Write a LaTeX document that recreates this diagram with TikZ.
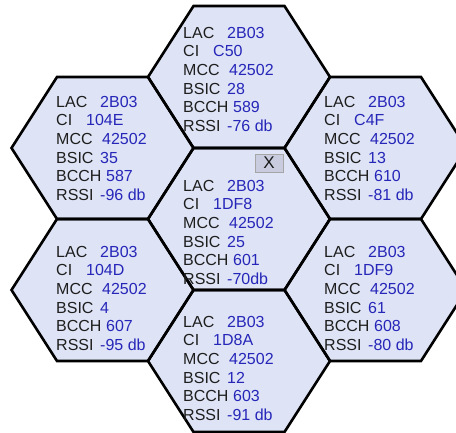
\documentclass[tikz,border=0pt]{standalone}
\usepackage{fontspec}
\setmainfont{Liberation Sans}
\definecolor{cellfill}{RGB}{222,228,245}
\definecolor{valblue}{RGB}{38,38,185}
\definecolor{labgray}{RGB}{30,30,30}
\definecolor{btnfill}{RGB}{200,204,222}
% one line of a cell: label, tab width, value
\newcommand{\fld}[3]{\makebox[#2pt][l]{\color{labgray}#1}\textcolor{valblue}{#3}}
% hexagon outline round (cx,cy)
\newcommand{\hexpath}[2]{(#1-91,#2) -- (#1-45.5,#2-71) -- (#1+45.5,#2-71) -- (#1+91,#2) -- (#1+45.5,#2+71) -- (#1-45.5,#2+71) -- cycle}
% text block of a cell: name, x, y, CI, BSIC, BCCH, RSSI
\newcommand{\cellinfo}[7]{\node[cellinfo] (#1) at (#2,#3) {\fld{LAC}{44}{2B03}\\\fld{CI}{30}{#4}\\\fld{MCC}{46}{42502}\\\fld{BSIC}{44}{#5}\\\fld{BCCH}{50}{#6}\\\fld{RSSI}{44}{#7}};}
\tikzset{
  cellinfo/.style={anchor=north west,inner sep=0pt,align=left,font=\fontsize{16}{18.6}\selectfont},
  hexborder/.style={draw=black,line width=2.6pt,line join=miter}
}
\begin{document}
\begin{tikzpicture}[x=1pt,y=-1pt]
  \clip (0,0) rectangle (456,432);
  \fill[white] (0,0) rectangle (456,432);
  % ===================== celdas =====================
  \foreach \cx/\cy in {239/77,102.5/148,375.5/148,239/219,102.5/290,375.5/290,239/361}
    \fill[cellfill] \hexpath{\cx}{\cy};
  \foreach \cx/\cy in {239/77,102.5/148,375.5/148,239/219,102.5/290,375.5/290,239/361}
    \draw[hexborder] \hexpath{\cx}{\cy};
  % ===================== datos =====================
  \cellinfo{infoTop}{183}{27}{C50}{28}{589}{-76 db}
  \cellinfo{infoUpLeft}{56}{96}{104E}{35}{587}{-96 db}
  \cellinfo{infoUpRight}{324}{96}{C4F}{13}{610}{-81 db}
  \cellinfo{infoMid}{183}{180}{1DF8}{25}{601}{-70db}
  \cellinfo{infoLowLeft}{56}{246}{104D}{4}{607}{-95 db}
  \cellinfo{infoLowRight}{324}{246}{1DF9}{61}{608}{-80 db}
  \cellinfo{infoBottom}{183}{316}{1D8A}{12}{603}{-91 db}
  % ===================== boton =====================
  \node[draw=gray!70,fill=btnfill,minimum width=28pt,minimum height=18pt,inner sep=0pt,
        text=gray!20!black,font=\fontsize{17}{17}\selectfont] (closeBtn) at (269,163) {X};
\end{tikzpicture}
\end{document}
